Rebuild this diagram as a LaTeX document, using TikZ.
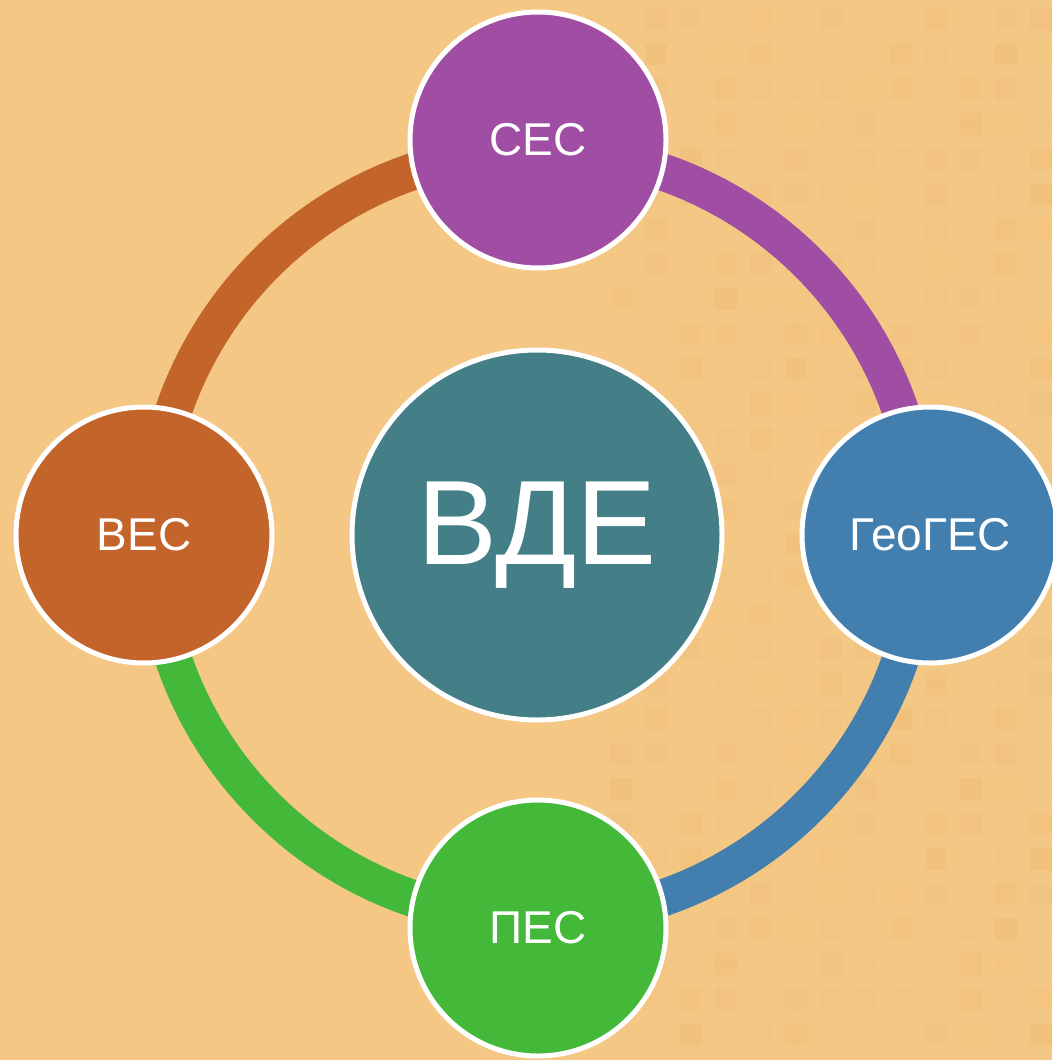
\documentclass[tikz,border=0pt]{standalone}
\usepackage{fontspec}
\setmainfont{Liberation Sans}
\definecolor{bgc}{HTML}{F4C784}
\definecolor{sq}{HTML}{E3A45A}
\definecolor{cpurple}{HTML}{A04EA3}
\definecolor{cblue}{HTML}{427FAF}
\definecolor{cgreen}{HTML}{44B838}
\definecolor{corange}{HTML}{C3642A}
\definecolor{cteal}{HTML}{447F87}
\begin{document}
\begin{tikzpicture}[x=1pt,y=-1pt,
  sat/.style={circle,draw=white,line width=5pt,minimum size=256pt,inner sep=0pt,text=white,font=\fontsize{46}{46}\selectfont},
  hub/.style={circle,draw=white,line width=5pt,minimum size=370pt,inner sep=0pt,text=white,font=\fontsize{120}{120}\selectfont},
  ring/.style={line width=37pt}]
\useasboundingbox (0,0) rectangle (1052,1060);
\fill[bgc] (0,0) rectangle (1052,1060);
% faint background squares
\foreach \i in {0,...,12}{
  \foreach \j in {0,...,29}{
    \pgfmathsetmacro{\xx}{610+\i*35}
    \pgfmathsetmacro{\yy}{8+\j*35}
    \pgfmathsetmacro{\op}{0.02+0.12*sin(\j*37+\i*53)^2*sin(\i*71+\j*29)^2}
    \fill[sq,opacity=\op] (\xx,\yy) rectangle ++(22,22);
  }
}
\coordinate (c) at (537,535);
\draw[ring,cpurple] (c) ++(90:-384) arc[start angle=-90,end angle=0,radius=384];
\draw[ring,cblue] (c) ++(0:384) arc[start angle=0,end angle=90,radius=384];
\draw[ring,cgreen] (c) ++(90:384) arc[start angle=90,end angle=180,radius=384];
\draw[ring,corange] (c) ++(180:384) arc[start angle=180,end angle=270,radius=384];
\node[hub,fill=cteal] (vde) at (537,535) {ВДЕ};
\node[sat,fill=cpurple] (ses) at (538,140) {СЕС};
\node[sat,fill=corange] (ves) at (144,535) {ВЕС};
\node[sat,fill=cblue] (geo) at (930,535) {ГеоГЕС};
\node[sat,fill=cgreen] (pes) at (538,928) {ПЕС};
\end{tikzpicture}
\end{document}
